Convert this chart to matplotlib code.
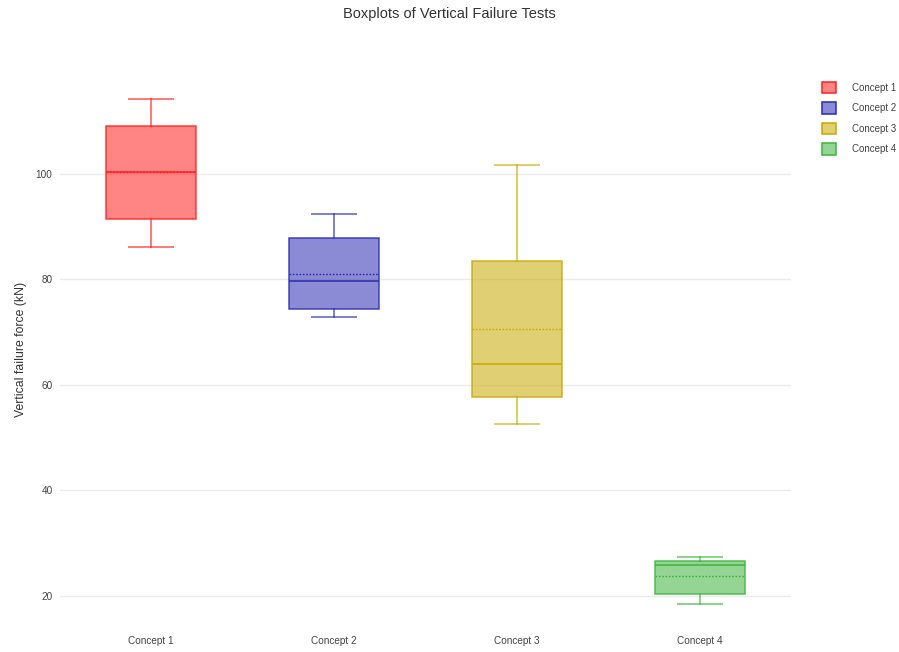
import matplotlib
matplotlib.use("Agg")
import matplotlib.pyplot as plt
from matplotlib.patches import Patch
from matplotlib.colors import to_rgba

# Summary statistics per concept (kN)
concepts = ["Concept 1", "Concept 2", "Concept 3", "Concept 4"]
whisker_low = [86.2, 72.8, 52.7, 18.4]
q1 = [91.5, 74.35, 57.7, 20.3]
median = [100.4, 79.7, 63.9, 25.8]
mean = [100.4, 81.1, 70.6, 23.7]
q3 = [109.1, 87.9, 83.5, 26.7]
whisker_high = [114.2, 92.4, 101.8, 27.3]
y_ticks = [20, 40, 60, 80, 100]

line_colors = ["#ff2020", "#2a2ab4", "#c9a800", "#3cb43c"]

plt.rcParams["font.family"] = ["Arial", "Liberation Sans", "DejaVu Sans"]

fig = plt.figure(figsize=(8.99, 6.52), dpi=100)
W, H = 899, 652
left_px, right_px, top_px, bottom_px = 59.5, 791.5, 70, 628
ax = fig.add_axes([left_px / W, 1 - bottom_px / H,
                   (right_px - left_px) / W, (bottom_px - top_px) / H])

stats = []
for i, name in enumerate(concepts):
    stats.append(dict(label=name, whislo=whisker_low[i], q1=q1[i], med=median[i],
                      mean=mean[i], q3=q3[i], whishi=whisker_high[i], fliers=[]))

positions = list(range(len(concepts)))
for i, s in enumerate(stats):
    c = line_colors[i]
    ax.bxp([s], positions=[positions[i]], widths=0.49, patch_artist=True,
           showmeans=True, meanline=True, showfliers=False,
           boxprops=dict(facecolor=to_rgba(c, 0.55), edgecolor=to_rgba(c, 0.85), linewidth=1.1),
           medianprops=dict(color=c, linewidth=1.1),
           meanprops=dict(color=c, linewidth=1.0, linestyle=(0, (1.2, 1.2))),
           whiskerprops=dict(color=to_rgba(c, 0.6), linewidth=1.4),
           capprops=dict(color=to_rgba(c, 0.6), linewidth=1.4),
           capwidths=0.245, zorder=3)

ax.set_xlim(-0.5, 3.5)
ax.set_ylim(20 - (bottom_px - 596) / 5.275, 100 + (174 - top_px) / 5.275)
ax.set_yticks(y_ticks)
ax.set_xticks(positions)
ax.set_xticklabels(concepts)
ax.tick_params(axis="both", length=0, labelsize=7.2, labelcolor="#444444")
ax.tick_params(axis="y", pad=5)
ax.tick_params(axis="x", pad=6)
ax.grid(axis="y", color="#ebebeb", linewidth=1, zorder=0)
ax.set_axisbelow(True)
for sp in ax.spines.values():
    sp.set_visible(False)

ax.set_ylabel("Vertical failure force (kN)", fontsize=8.8, color="#333333", labelpad=6)
fig.text(0.5, 1 - 14 / H, "Boxplots of Vertical Failure Tests", ha="center", va="center",
         fontsize=10.5, color="#333333")

handles = [Patch(facecolor=to_rgba(c, 0.55), edgecolor=c, linewidth=1.1) for c in line_colors]
fig.legend(handles, concepts, loc="upper left", bbox_to_anchor=(818 / W, 1 - 78 / H),
           frameon=False, fontsize=7.0, handlelength=1.45, handleheight=1.4,
           labelspacing=0.95, handletextpad=1.6, labelcolor="#444444",
           borderaxespad=0.0)

fig.savefig("out.png", dpi=100)
